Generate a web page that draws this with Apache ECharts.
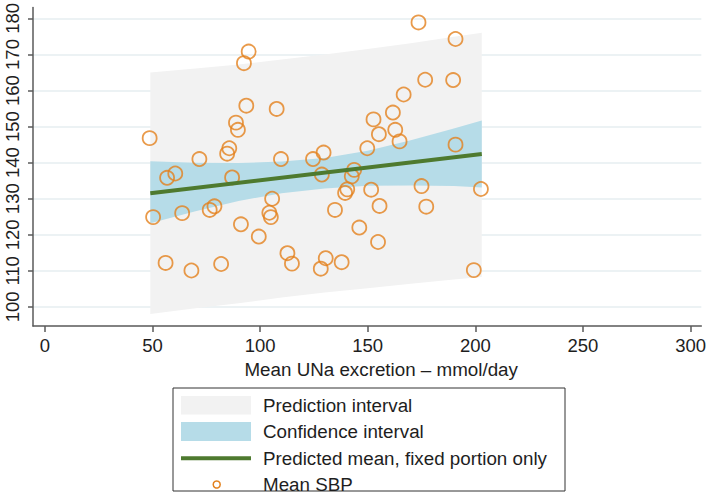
<!DOCTYPE html>
<html>
<head>
<meta charset="utf-8">
<script src="https://cdn.jsdelivr.net/npm/echarts@6/dist/echarts.min.js"></script>
<style>html,body{margin:0;padding:0;background:#fff}#c{width:709px;height:502px}</style>
</head>
<body>
<div id="c"></div>
<script>
// ---- data ----
var xTicks = [0, 50, 100, 150, 200, 250, 300];
var yTicks = [100, 110, 120, 130, 140, 150, 160, 170, 180];

var bandX  = [49, 70, 90, 110, 130, 150, 170, 190, 203];
var piLow  = [98.0, 99.6, 101.0, 102.6, 104.0, 105.2, 106.4, 107.6, 108.3];
var piHigh = [165.0, 166.1, 167.2, 168.6, 170.0, 171.5, 173.1, 174.9, 176.0];
var ciLow  = [123.2, 126.5, 129.4, 131.5, 132.8, 133.6, 133.7, 133.5, 133.1];
var ciHigh = [140.4, 140.0, 139.9, 140.3, 141.3, 143.3, 146.2, 149.5, 151.7];

var meanX = [49, 203];
var meanY = [131.5, 142.4];

var sbpX = [48.7, 71.8, 94.7, 92.5, 93.6, 88.8, 89.7, 85.7, 84.7, 107.7, 109.7, 124.6, 129.5, 149.8, 152.7, 155.2, 173.6, 190.8, 176.7, 189.7, 166.7, 161.7, 162.8, 164.8, 190.8,
            56.8, 60.6, 87.0, 50.3, 63.8, 76.6, 78.8, 91.1, 99.4, 105.6, 104.3, 105.0, 56.1, 68.1, 81.9, 112.7, 114.8, 128.2, 130.5, 137.9, 128.7, 134.8, 139.5, 140.5, 146.1, 142.6, 143.7, 151.6, 155.5, 154.8, 175.0, 177.2, 202.6, 199.3];
var sbpY = [146.8, 141.0, 170.8, 167.6, 155.8, 151.1, 149.1, 144.0, 142.5, 154.9, 141.0, 141.0, 142.8, 144.0, 152.0, 147.9, 178.9, 174.3, 163.0, 162.9, 158.9, 153.9, 149.1, 145.9, 145.0,
            135.8, 137.0, 135.9, 124.9, 126.0, 126.9, 127.9, 122.9, 119.5, 130.0, 126.1, 124.9, 112.2, 110.1, 111.9, 114.9, 112.0, 110.6, 113.5, 112.4, 136.7, 126.9, 131.6, 132.6, 122.0, 136.2, 138.0, 132.5, 128.0, 118.0, 133.5, 127.8, 132.7, 110.2];

var legendNames = ['Prediction interval', 'Confidence interval', 'Predicted mean, fixed portion only', 'Mean SBP'];
var xTitle = 'Mean UNa excretion \u2013 mmol/day';

// ---- styles ----
var FONT = 'Liberation Sans, Arial, Helvetica, sans-serif';
var C_PI = '#F2F2F2', C_CI = '#B6DCE8', C_MEAN = '#4E7A2F', C_DOT = '#E3811D';
var C_AXIS = '#5a5a5a', C_TEXT = '#1e1e1e', C_GRID = '#E6EEF0';

function bandData(lo, hi) {
  return bandX.map(function (x, i) { return [x, lo[i], hi[i]]; });
}
function bandSeries(name, lo, hi, color) {
  var data = bandData(lo, hi);
  return {
    type: 'custom', name: name, silent: true,
    encode: { x: 0, y: [1, 2] },
    data: data,
    renderItem: function (params, api) {
      if (params.dataIndex !== 0) return null;
      var pts = [];
      for (var i = 0; i < data.length; i++) pts.push(api.coord([data[i][0], data[i][2]]));
      for (var j = data.length - 1; j >= 0; j--) pts.push(api.coord([data[j][0], data[j][1]]));
      return { type: 'polygon', shape: { points: pts }, style: { fill: color, stroke: null } };
    }
  };
}

var chart = echarts.init(document.getElementById('c'), null, { renderer: 'svg' });

var legendTop = 388, legendLeft = 173;
var lg = [];
lg.push({ type: 'rect', shape: { x: legendLeft, y: legendTop, width: 392, height: 103 }, style: { fill: '#fff', stroke: '#333', lineWidth: 1 } });
lg.push({ type: 'rect', shape: { x: 181, y: 396, width: 70, height: 18.5 }, style: { fill: C_PI } });
lg.push({ type: 'rect', shape: { x: 181, y: 422, width: 70, height: 19 }, style: { fill: C_CI } });
lg.push({ type: 'line', shape: { x1: 181, y1: 458.3, x2: 251, y2: 458.3 }, style: { stroke: C_MEAN, lineWidth: 4 } });
lg.push({ type: 'circle', shape: { cx: 216.7, cy: 484.5, r: 3.5 }, style: { fill: 'none', stroke: C_DOT, lineWidth: 1.5 } });
var rowY = [405, 431.5, 458, 484.3];
for (var k = 0; k < legendNames.length; k++) {
  lg.push({ type: 'text', x: 263, y: rowY[k], style: { text: legendNames[k], fill: C_TEXT, font: '18.8px ' + FONT, verticalAlign: 'middle', align: 'left' } });
}

chart.setOption({
  animation: false,
  backgroundColor: '#fff',
  grid: { left: 33, right: 6, top: 5, bottom: 176, containLabel: false },
  xAxis: {
    type: 'value', min: -5.5, max: 305,
    name: xTitle, nameLocation: 'middle', nameGap: 30,
    nameTextStyle: { fontSize: 18.8, fontFamily: FONT, color: C_TEXT, padding: [0, 0, 0, 28] },
    axisLine: { show: true, onZero: false, lineStyle: { color: C_AXIS, width: 1.5 } },
    axisTick: { show: true, length: 6, customValues: xTicks, lineStyle: { color: C_AXIS, width: 1.5 } },
    axisLabel: { customValues: xTicks, fontSize: 18.5, fontFamily: FONT, color: C_TEXT, margin: 10 },
    splitLine: { show: false }
  },
  yAxis: {
    type: 'value', min: 94.7, max: 183,
    axisLine: { show: true, onZero: false, lineStyle: { color: C_AXIS, width: 1.5 } },
    axisTick: { show: true, length: 5, customValues: yTicks, lineStyle: { color: C_AXIS, width: 1.5 } },
    axisLabel: { customValues: yTicks, rotate: 90, fontSize: 18.5, fontFamily: FONT, color: C_TEXT, margin: 11 },
    splitLine: { show: true, lineStyle: { color: C_GRID, width: 1.5 } }
  },
  graphic: lg,
  series: [
    bandSeries('Prediction interval', piLow, piHigh, C_PI),
    bandSeries('Confidence interval', ciLow, ciHigh, C_CI),
    {
      type: 'line', name: 'Predicted mean, fixed portion only', silent: true,
      data: meanX.map(function (x, i) { return [x, meanY[i]]; }),
      symbol: 'none', lineStyle: { color: C_MEAN, width: 4 }
    },
    {
      type: 'scatter', name: 'Mean SBP', silent: true,
      data: sbpX.map(function (x, i) { return [x, sbpY[i]]; }),
      symbol: 'circle', symbolSize: 14,
      itemStyle: { color: 'rgba(255,255,255,0)', borderColor: C_DOT, borderWidth: 1.8 }
    }
  ]
});
</script>
</body>
</html>
